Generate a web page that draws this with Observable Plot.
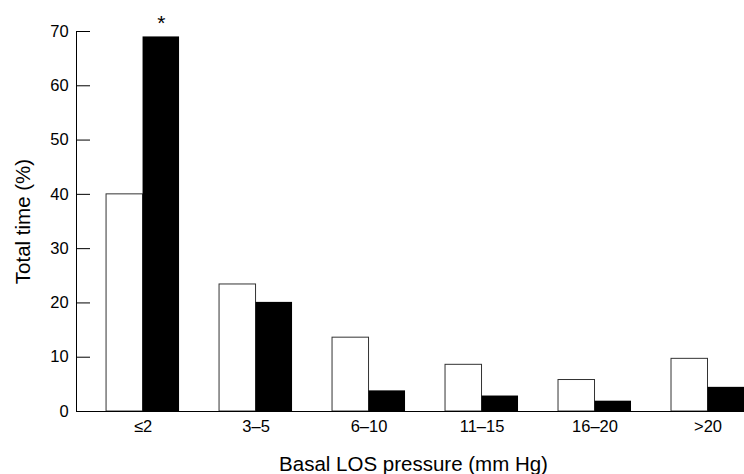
<!DOCTYPE html>
<html>
<head>
<meta charset="utf-8">
<script src="https://cdn.jsdelivr.net/npm/d3@7"></script>
<script src="https://cdn.jsdelivr.net/npm/@observablehq/plot@0.6"></script>
<style>
  html, body { margin: 0; padding: 0; background: #fff; overflow: hidden; }
  #chart svg { display: block; }
</style>
</head>
<body>
<div id="chart"></div>
<script>
// Data
const categories = ["≤2", "3–5", "6–10", "11–15", "16–20", ">20"];
const whiteValues = [40, 23.4, 13.6, 8.6, 5.8, 9.7];
const blackValues = [69, 20.1, 3.8, 2.85, 1.9, 4.45];
const yTicks = [0, 10, 20, 30, 40, 50, 60, 70];
const annotations = [{category: "≤2", value: 69, label: "*"}];
const xTitle = "Basal LOS pressure (mm Hg)";
const yTitle = "Total time (%)";

const whiteRows = categories.map((c, i) => ({category: c, value: whiteValues[i]}));
const blackRows = categories.map((c, i) => ({category: c, value: blackValues[i]}));

const font = "'Liberation Sans', Arial, Helvetica, sans-serif";

const chart = Plot.plot({
  width: 744,
  height: 474,
  marginLeft: 76,
  marginRight: 0,
  marginTop: 31,
  marginBottom: 63,
  style: {fontFamily: font, fontSize: "16.5px", background: "white", color: "black"},
  x: {domain: categories, paddingInner: 0.354, paddingOuter: 0.133, align: 1, round: false, axis: null},
  y: {domain: [0, 70], axis: null},
  marks: [
    Plot.barY(whiteRows, {x: "category", y: "value", fill: "white", stroke: "#333", strokeWidth: 1, insetRight: 36.5}),
    Plot.barY(blackRows, {x: "category", y: "value", fill: "black", insetLeft: 36.5}),
    Plot.frame({anchor: "left", stroke: "black"}),
    Plot.ruleY([0], {stroke: "black"}),
    Plot.axisY(yTicks, {anchor: "left", tickSize: -14, tickPadding: 21.8, fontSize: 16.5, label: null, stroke: "black", color: "black"}),
    Plot.axisX({anchor: "bottom", tickSize: 0, tickPadding: 8.5, fontSize: 16.5, label: null}),
    Plot.text([yTitle], {frameAnchor: "left", textAnchor: "middle", rotate: -90, dx: -61, lineAnchor: "top", fontSize: 20.5, fill: "black"}),
    Plot.text([xTitle], {frameAnchor: "bottom", textAnchor: "middle", dx: 3, dy: 59.5, lineAnchor: "bottom", fontSize: 20.5, fill: "black"}),
    Plot.text(annotations, {x: "category", y: "value", text: "label", dx: 18.25, dy: -7, lineAnchor: "bottom", fontSize: 21, fill: "black"})
  ]
});
document.getElementById("chart").appendChild(chart);
</script>
</body>
</html>
